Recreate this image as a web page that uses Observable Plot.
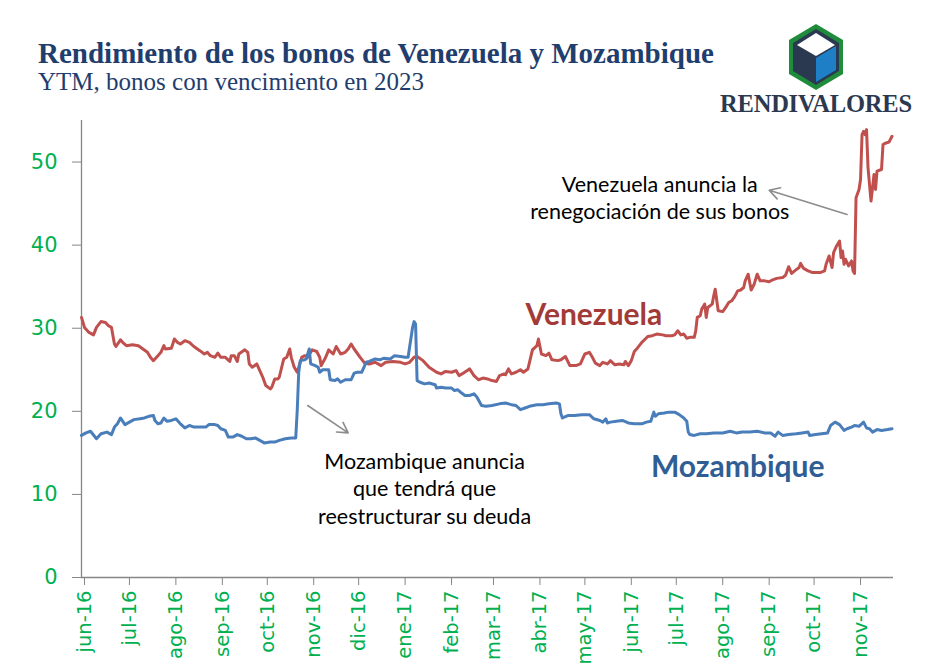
<!DOCTYPE html>
<html>
<head>
<meta charset="utf-8">
<script src="https://cdn.jsdelivr.net/npm/d3@7"></script>
<script src="https://cdn.jsdelivr.net/npm/@observablehq/plot@0.6"></script>
<style>
  html, body { margin: 0; padding: 0; background: #fff; }
  #page { position: relative; width: 937px; height: 672px; overflow: hidden; }
  #header { position: relative; width: 937px; height: 100px; }
  .title { position: absolute; left: 38px; top: 39px; font-family: "Liberation Serif", serif; font-weight: bold; font-size: 29px; line-height: 29px; color: #1F3E6E; white-space: nowrap; }
  .subtitle { position: absolute; left: 38px; top: 69px; font-family: "Liberation Serif", serif; font-size: 25px; line-height: 25px; color: #1F3E6E; white-space: nowrap; }
  .brand { position: absolute; left: 720px; top: 91px; font-family: "Liberation Serif", serif; font-weight: bold; font-size: 24.5px; line-height: 25px; color: #2B3950; white-space: nowrap; letter-spacing: -0.2px; z-index: 2; }
  #logo { position: absolute; left: 780px; top: 18px; z-index: 2; }
  #chart { position: absolute; left: 0; top: 100px; }
</style>
</head>
<body>
<div id="page">
  <div id="header">
    <div class="title">Rendimiento de los bonos de Venezuela y Mozambique</div>
    <div class="subtitle">YTM, bonos con vencimiento en 2023</div>
  </div>
  <svg id="logo" width="72" height="80" viewBox="780 18 72 80">
    <polygon points="816,24 843,40 843,74 816,90 789,74 789,40" fill="#1E8C3A"/>
    <polygon points="816,29 839,43 839,71 816,85 793,71 793,43" fill="#2B3950"/>
    <polygon points="816,58 836,46 836,70 816,82" fill="#1E7FC6"/>
    <polygon points="797,45 816,33 835,45 816,56" fill="#ffffff"/>
  </svg>
  <div class="brand">RENDIVALORES</div>
  <div id="chart"></div>
</div>
<script>
// ---------- data ----------
const tickDates = ["2016-06-01","2016-07-01","2016-08-01","2016-09-01","2016-10-01","2016-11-01","2016-12-01","2017-01-01","2017-02-01","2017-03-01","2017-04-01","2017-05-01","2017-06-01","2017-07-01","2017-08-01","2017-09-01","2017-10-01","2017-11-01"];
const tickLabels = ["jun-16","jul-16","ago-16","sep-16","oct-16","nov-16","dic-16","ene-17","feb-17","mar-17","abr-17","may-17","jun-17","jul-17","ago-17","sep-17","oct-17","nov-17"];
const yTicks = [0, 10, 20, 30, 40, 50];

const venDates = ["2016-06-01","2016-06-03","2016-06-06","2016-06-09","2016-06-11","2016-06-14","2016-06-17","2016-06-19","2016-06-21","2016-06-23","2016-06-24","2016-06-27","2016-06-29","2016-07-01","2016-07-05","2016-07-09","2016-07-12","2016-07-15","2016-07-17","2016-07-19","2016-07-22","2016-07-24","2016-07-26","2016-07-27","2016-07-31","2016-08-02","2016-08-04","2016-08-06","2016-08-09","2016-08-12","2016-08-15","2016-08-19","2016-08-22","2016-08-24","2016-08-26","2016-08-29","2016-08-31","2016-09-02","2016-09-05","2016-09-08","2016-09-09","2016-09-11","2016-09-13","2016-09-14","2016-09-18","2016-09-20","2016-09-21","2016-09-23","2016-09-26","2016-09-28","2016-09-30","2016-10-02","2016-10-05","2016-10-06","2016-10-08","2016-10-10","2016-10-11","2016-10-14","2016-10-16","2016-10-18","2016-10-19","2016-10-21","2016-10-23","2016-10-26","2016-10-28","2016-10-30","2016-11-02","2016-11-05","2016-11-07","2016-11-08","2016-11-11","2016-11-13","2016-11-16","2016-11-18","2016-11-21","2016-11-24","2016-11-26","2016-11-28","2016-11-30","2016-12-04","2016-12-07","2016-12-10","2016-12-14","2016-12-18","2016-12-21","2016-12-26","2016-12-31","2017-01-03","2017-01-06","2017-01-09","2017-01-11","2017-01-15","2017-01-19","2017-01-24","2017-01-27","2017-01-30","2017-02-03","2017-02-06","2017-02-08","2017-02-10","2017-02-15","2017-02-18","2017-02-21","2017-02-24","2017-02-27","2017-03-02","2017-03-05","2017-03-07","2017-03-10","2017-03-11","2017-03-13","2017-03-15","2017-03-18","2017-03-21","2017-03-23","2017-03-26","2017-03-29","2017-04-01","2017-04-02","2017-04-04","2017-04-07","2017-04-09","2017-04-11","2017-04-15","2017-04-17","2017-04-20","2017-04-23","2017-04-27","2017-04-30","2017-05-03","2017-05-06","2017-05-08","2017-05-10","2017-05-13","2017-05-15","2017-05-18","2017-05-20","2017-05-23","2017-05-26","2017-05-29","2017-05-30","2017-06-01","2017-06-03","2017-06-05","2017-06-07","2017-06-10","2017-06-14","2017-06-17","2017-06-20","2017-06-24","2017-06-26","2017-06-30","2017-07-02","2017-07-04","2017-07-06","2017-07-08","2017-07-10","2017-07-12","2017-07-15","2017-07-16","2017-07-17","2017-07-19","2017-07-20","2017-07-22","2017-07-23","2017-07-24","2017-07-27","2017-07-28","2017-07-29","2017-07-31","2017-08-03","2017-08-05","2017-08-07","2017-08-09","2017-08-11","2017-08-13","2017-08-15","2017-08-17","2017-08-18","2017-08-20","2017-08-22","2017-08-24","2017-08-26","2017-08-28","2017-08-31","2017-09-03","2017-09-05","2017-09-08","2017-09-12","2017-09-14","2017-09-16","2017-09-18","2017-09-20","2017-09-23","2017-09-24","2017-09-26","2017-09-29","2017-10-02","2017-10-07","2017-10-10","2017-10-11","2017-10-13","2017-10-15","2017-10-16","2017-10-18","2017-10-20","2017-10-21","2017-10-22","2017-10-23","2017-10-24","2017-10-26","2017-10-28","2017-10-29","2017-10-30","2017-10-31","2017-11-02","2017-11-03","2017-11-04","2017-11-05","2017-11-06","2017-11-07","2017-11-08","2017-11-10","2017-11-12","2017-11-13","2017-11-14","2017-11-17","2017-11-18","2017-11-20","2017-11-22","2017-11-24"];
const venValues = [31.3,30.1,29.5,29.2,30.1,30.8,30.7,30.3,30.1,28.1,27.8,28.6,28.2,27.9,28.0,27.9,27.5,27.1,26.5,26.1,26.7,27.1,27.9,27.5,27.6,28.7,28.3,28.1,28.5,28.3,27.8,27.3,26.9,27.1,26.7,26.5,27.0,26.5,26.5,26.0,26.7,26.7,26.0,26.9,27.4,27.1,25.7,25.3,25.7,24.9,24.1,23.1,22.7,22.9,23.9,23.9,24.1,26.3,26.5,27.5,26.5,25.3,24.7,26.5,26.7,26.5,27.4,27.2,26.5,25.5,26.5,27.4,26.9,27.8,26.9,27.1,27.5,28.1,27.5,26.5,25.8,25.7,25.9,25.5,25.9,26.0,25.9,25.7,25.9,26.5,26.6,26.1,25.3,24.7,24.5,24.8,24.7,24.9,24.3,24.5,25.1,24.3,23.8,24.0,23.9,23.7,23.6,24.3,24.5,24.4,25.1,24.5,24.7,25.0,24.7,25.1,27.4,27.9,28.7,26.9,26.7,27.0,26.2,26.1,26.2,26.6,25.5,25.5,25.7,26.9,27.1,26.5,25.8,25.5,25.9,25.7,26.1,25.6,25.7,25.6,26.0,25.5,26.1,27.2,27.6,28.3,29.0,29.1,29.3,29.2,29.1,29.1,29.2,29.7,29.2,29.3,28.8,28.9,28.9,29.7,31.3,31.5,32.3,32.9,31.3,32.5,32.9,33.9,34.7,32.1,32.0,32.5,33.1,33.3,33.8,34.5,34.6,34.9,35.7,36.5,34.6,35.3,36.5,35.7,35.7,35.6,35.8,36.0,36.1,36.4,37.4,36.6,36.9,37.3,37.8,37.2,36.9,36.7,36.7,36.9,37.7,38.7,37.3,39.1,39.9,40.5,38.5,39.3,37.7,38.3,37.5,38.1,36.9,36.6,45.7,46.7,47.9,53.3,53.7,53.3,53.9,49.3,45.3,48.5,46.7,48.9,49.1,52.1,52.3,52.4,53.1];

const mozDates = ["2016-06-01","2016-06-04","2016-06-07","2016-06-11","2016-06-14","2016-06-18","2016-06-21","2016-06-23","2016-06-25","2016-06-27","2016-06-30","2016-07-03","2016-07-06","2016-07-10","2016-07-13","2016-07-16","2016-07-19","2016-07-20","2016-07-22","2016-07-24","2016-07-26","2016-07-28","2016-07-31","2016-08-03","2016-08-06","2016-08-09","2016-08-12","2016-08-15","2016-08-19","2016-08-23","2016-08-25","2016-08-29","2016-08-31","2016-09-02","2016-09-05","2016-09-07","2016-09-10","2016-09-13","2016-09-16","2016-09-19","2016-09-22","2016-09-25","2016-09-28","2016-10-01","2016-10-05","2016-10-08","2016-10-11","2016-10-15","2016-10-19","2016-10-22","2016-10-23","2016-10-24","2016-10-25","2016-10-28","2016-10-29","2016-10-31","2016-11-01","2016-11-04","2016-11-06","2016-11-07","2016-11-09","2016-11-13","2016-11-14","2016-11-17","2016-11-19","2016-11-21","2016-11-24","2016-11-28","2016-11-30","2016-12-02","2016-12-05","2016-12-08","2016-12-10","2016-12-14","2016-12-17","2016-12-20","2016-12-24","2016-12-27","2016-12-31","2017-01-03","2017-01-05","2017-01-06","2017-01-08","2017-01-09","2017-01-10","2017-01-11","2017-01-13","2017-01-16","2017-01-19","2017-01-23","2017-01-24","2017-01-27","2017-01-30","2017-02-03","2017-02-05","2017-02-07","2017-02-09","2017-02-12","2017-02-15","2017-02-18","2017-02-20","2017-02-23","2017-02-26","2017-03-02","2017-03-07","2017-03-11","2017-03-15","2017-03-18","2017-03-21","2017-03-24","2017-03-27","2017-04-01","2017-04-05","2017-04-09","2017-04-14","2017-04-16","2017-04-17","2017-04-18","2017-04-22","2017-04-26","2017-05-01","2017-05-06","2017-05-09","2017-05-13","2017-05-15","2017-05-17","2017-05-18","2017-05-20","2017-05-24","2017-05-28","2017-06-01","2017-06-05","2017-06-10","2017-06-13","2017-06-16","2017-06-18","2017-06-19","2017-06-21","2017-06-25","2017-06-28","2017-07-02","2017-07-05","2017-07-08","2017-07-10","2017-07-11","2017-07-12","2017-07-15","2017-07-19","2017-07-23","2017-07-28","2017-08-03","2017-08-08","2017-08-12","2017-08-16","2017-08-21","2017-08-26","2017-08-31","2017-09-04","2017-09-07","2017-09-09","2017-09-12","2017-09-16","2017-09-21","2017-09-25","2017-09-29","2017-09-30","2017-10-04","2017-10-08","2017-10-12","2017-10-14","2017-10-17","2017-10-20","2017-10-23","2017-10-25","2017-10-28","2017-10-30","2017-11-02","2017-11-05","2017-11-07","2017-11-09","2017-11-11","2017-11-14","2017-11-17","2017-11-21","2017-11-24"];
const mozValues = [17.1,17.4,17.6,16.7,17.3,17.5,17.2,18.1,18.5,19.2,18.4,18.7,19.0,19.1,19.2,19.4,19.5,18.9,18.5,18.6,19.2,18.8,18.9,19.1,18.5,18.0,18.3,18.1,18.1,18.1,18.4,18.4,18.3,17.9,17.7,16.9,16.9,17.2,17.0,16.7,16.7,16.8,16.5,16.2,16.3,16.3,16.5,16.7,16.8,16.8,20.1,24.7,26.1,26.2,26.3,27.5,25.7,25.5,25.3,24.7,25.0,25.0,23.8,23.7,23.9,23.5,23.8,23.8,24.6,24.7,24.7,25.9,26.0,26.3,26.2,26.4,26.3,26.7,26.6,26.5,26.5,27.7,30.1,30.8,30.5,23.7,23.5,23.3,23.4,23.2,22.8,22.9,22.8,22.8,22.5,22.6,22.3,21.9,21.9,22.1,21.7,20.7,20.6,20.7,20.9,21.0,20.8,20.7,20.2,20.4,20.6,20.8,20.8,20.9,21.0,20.9,19.7,19.2,19.5,19.5,19.6,19.6,19.1,18.9,18.7,19.1,18.6,18.7,18.8,18.9,18.6,18.5,18.5,18.7,18.8,19.9,19.4,19.7,19.8,19.9,19.9,19.6,19.2,18.8,17.5,17.2,17.1,17.3,17.3,17.4,17.4,17.6,17.4,17.5,17.5,17.6,17.4,17.4,17.0,17.5,17.1,17.2,17.3,17.4,17.5,17.1,17.2,17.3,17.4,18.3,18.7,18.4,17.7,17.9,18.1,18.3,18.2,18.7,18.0,17.9,17.5,17.8,17.7,17.8,17.9];

const xStart = "2016-06-01";
const xEnd = "2017-11-25";

// annotation anchors (in data space)
const venLabel = [{date: "2017-05-09", value: 31.5, text: "Venezuela"}];
const mozLabel = [{date: "2017-08-13", value: 13.3, text: "Mozambique"}];
const venNote = [{date: "2017-06-22", value: 45.8, text: "Venezuela anuncia la\nrenegociación de sus bonos"}];
const mozNote = [{date: "2017-01-16", value: 10.85, text: "Mozambique anuncia\nque tendrá que\nreestructurar su deuda"}];
const venArrow = [{from: "2017-10-25", fromValue: 43.7, to: "2017-09-03", toValue: 46.6}];
const mozArrow = [{from: "2016-10-30", fromValue: 20.7, to: "2016-11-26", toValue: 17.4}];

// ---------- build ----------
const parse = d3.utcParse("%Y-%m-%d");
const ven = venDates.map((d, i) => ({date: parse(d), value: venValues[i]}));
const moz = mozDates.map((d, i) => ({date: parse(d), value: mozValues[i]}));
const ticks = tickDates.map(parse);
const lab = (arr) => arr.map(d => ({...d, date: parse(d.date)}));
const arr = (a) => a.map(d => ({...d, from: parse(d.from), to: parse(d.to)}));

const green = "#00B050";
const axisGray = "#868686";
const annFont = "Lato, 'Open Sans', sans-serif";

const chart = Plot.plot({
  width: 937,
  height: 572,
  marginLeft: 81,
  marginRight: 44,
  marginTop: 20,
  marginBottom: 95,
  style: {fontFamily: "'DejaVu Sans', Verdana, sans-serif", background: "transparent", overflow: "visible"},
  x: {type: "utc", domain: [parse(xStart), parse(xEnd)]},
  y: {domain: [0, 55]},
  marks: [
    Plot.axisY({ticks: yTicks, tickSize: 9, tickPadding: 15, fontSize: 21, fill: green, stroke: axisGray, label: null}),
    Plot.axisX({ticks: ticks, tickFormat: (d) => tickLabels[ticks.findIndex(t => +t === +d)], tickRotate: -90, tickSize: 8, tickPadding: 5, fontSize: 19.5, fill: green, stroke: axisGray, label: null, dx: 3}),
    Plot.ruleX([parse(xStart)], {stroke: axisGray, strokeWidth: 1.3}),
    Plot.ruleY([0], {stroke: axisGray, strokeWidth: 1.3}),
    Plot.line(ven, {x: "date", y: "value", stroke: "#C0504D", strokeWidth: 3, strokeLinejoin: "round"}),
    Plot.line(moz, {x: "date", y: "value", stroke: "#4A7EBB", strokeWidth: 3, strokeLinejoin: "round"}),
    Plot.arrow(arr(venArrow), {x1: "from", y1: "fromValue", x2: "to", y2: "toValue", stroke: "#8C8C8C", strokeWidth: 1.6, headLength: 11}),
    Plot.arrow(arr(mozArrow), {x1: "from", y1: "fromValue", x2: "to", y2: "toValue", stroke: "#8C8C8C", strokeWidth: 1.6, headLength: 11}),
    Plot.text(lab(venLabel), {x: "date", y: "value", text: "text", fill: "#A23B38", fontSize: 30, fontWeight: "bold", fontFamily: annFont}),
    Plot.text(lab(mozLabel), {x: "date", y: "value", text: "text", fill: "#2F5E94", fontSize: 30, fontWeight: "bold", fontFamily: annFont}),
    Plot.text(lab(venNote), {x: "date", y: "value", text: "text", fill: "#000", fontSize: 21.5, lineHeight: 1.25, fontFamily: annFont}),
    Plot.text(lab(mozNote), {x: "date", y: "value", text: "text", fill: "#000", fontSize: 21.5, lineHeight: 1.28, fontFamily: annFont})
  ]
});
document.getElementById("chart").appendChild(chart);
</script>
</body>
</html>
